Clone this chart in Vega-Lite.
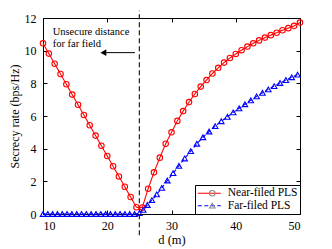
{
  "$schema": "https://vega.github.io/schema/vega-lite/v6.json",
  "width": 257,
  "height": 196,
  "autosize": {"type": "none"},
  "padding": {"left": 43, "top": 18, "right": 32, "bottom": 35},
  "config": {
    "view": {"stroke": "black", "strokeWidth": 1},
    "font": "Liberation Serif",
    "axis": {"labelFont": "Liberation Serif", "titleFont": "Liberation Serif", "labelColor": "black", "titleColor": "black", "tickColor": "black", "domain": false, "grid": false, "titleFontWeight": "normal"}
  },
  "datasets": {
    "curves": [
      {"series": "Near-filed PLS", "x": 10.0, "y": 10.45},
      {"series": "Near-filed PLS", "x": 10.909, "y": 9.82},
      {"series": "Near-filed PLS", "x": 11.818, "y": 9.2},
      {"series": "Near-filed PLS", "x": 12.727, "y": 8.57},
      {"series": "Near-filed PLS", "x": 13.636, "y": 7.94},
      {"series": "Near-filed PLS", "x": 14.545, "y": 7.31},
      {"series": "Near-filed PLS", "x": 15.455, "y": 6.69},
      {"series": "Near-filed PLS", "x": 16.364, "y": 6.06},
      {"series": "Near-filed PLS", "x": 17.273, "y": 5.43},
      {"series": "Near-filed PLS", "x": 18.182, "y": 4.8},
      {"series": "Near-filed PLS", "x": 19.091, "y": 4.18},
      {"series": "Near-filed PLS", "x": 20.0, "y": 3.55},
      {"series": "Near-filed PLS", "x": 20.909, "y": 2.92},
      {"series": "Near-filed PLS", "x": 21.818, "y": 2.3},
      {"series": "Near-filed PLS", "x": 22.727, "y": 1.67},
      {"series": "Near-filed PLS", "x": 23.636, "y": 1.04},
      {"series": "Near-filed PLS", "x": 24.545, "y": 0.41},
      {"series": "Near-filed PLS", "x": 25.455, "y": 0.4},
      {"series": "Near-filed PLS", "x": 26.364, "y": 1.55},
      {"series": "Near-filed PLS", "x": 27.273, "y": 2.55},
      {"series": "Near-filed PLS", "x": 28.182, "y": 3.45},
      {"series": "Near-filed PLS", "x": 29.091, "y": 4.3},
      {"series": "Near-filed PLS", "x": 30.0, "y": 5.0},
      {"series": "Near-filed PLS", "x": 30.909, "y": 5.7},
      {"series": "Near-filed PLS", "x": 31.818, "y": 6.3},
      {"series": "Near-filed PLS", "x": 32.727, "y": 6.85},
      {"series": "Near-filed PLS", "x": 33.636, "y": 7.35},
      {"series": "Near-filed PLS", "x": 34.545, "y": 7.8},
      {"series": "Near-filed PLS", "x": 35.455, "y": 8.2},
      {"series": "Near-filed PLS", "x": 36.364, "y": 8.6},
      {"series": "Near-filed PLS", "x": 37.273, "y": 8.95},
      {"series": "Near-filed PLS", "x": 38.182, "y": 9.27},
      {"series": "Near-filed PLS", "x": 39.091, "y": 9.55},
      {"series": "Near-filed PLS", "x": 40.0, "y": 9.8},
      {"series": "Near-filed PLS", "x": 40.909, "y": 10.03},
      {"series": "Near-filed PLS", "x": 41.818, "y": 10.25},
      {"series": "Near-filed PLS", "x": 42.727, "y": 10.45},
      {"series": "Near-filed PLS", "x": 43.636, "y": 10.63},
      {"series": "Near-filed PLS", "x": 44.545, "y": 10.8},
      {"series": "Near-filed PLS", "x": 45.455, "y": 10.95},
      {"series": "Near-filed PLS", "x": 46.364, "y": 11.1},
      {"series": "Near-filed PLS", "x": 47.273, "y": 11.25},
      {"series": "Near-filed PLS", "x": 48.182, "y": 11.38},
      {"series": "Near-filed PLS", "x": 49.091, "y": 11.52},
      {"series": "Near-filed PLS", "x": 50.0, "y": 11.72},
      {"series": "Far-filed PLS", "x": 10.0, "y": 0},
      {"series": "Far-filed PLS", "x": 10.75, "y": 0},
      {"series": "Far-filed PLS", "x": 11.5, "y": 0},
      {"series": "Far-filed PLS", "x": 12.25, "y": 0},
      {"series": "Far-filed PLS", "x": 13.0, "y": 0},
      {"series": "Far-filed PLS", "x": 13.75, "y": 0},
      {"series": "Far-filed PLS", "x": 14.5, "y": 0},
      {"series": "Far-filed PLS", "x": 15.25, "y": 0},
      {"series": "Far-filed PLS", "x": 16.0, "y": 0},
      {"series": "Far-filed PLS", "x": 16.75, "y": 0},
      {"series": "Far-filed PLS", "x": 17.5, "y": 0},
      {"series": "Far-filed PLS", "x": 18.25, "y": 0},
      {"series": "Far-filed PLS", "x": 19.0, "y": 0},
      {"series": "Far-filed PLS", "x": 19.75, "y": 0},
      {"series": "Far-filed PLS", "x": 20.5, "y": 0},
      {"series": "Far-filed PLS", "x": 21.25, "y": 0},
      {"series": "Far-filed PLS", "x": 22.0, "y": 0},
      {"series": "Far-filed PLS", "x": 22.75, "y": 0},
      {"series": "Far-filed PLS", "x": 23.5, "y": 0},
      {"series": "Far-filed PLS", "x": 24.25, "y": 0},
      {"series": "Far-filed PLS", "x": 25.0, "y": 0.05},
      {"series": "Far-filed PLS", "x": 25.6, "y": 0.25},
      {"series": "Far-filed PLS", "x": 26.25, "y": 0.55},
      {"series": "Far-filed PLS", "x": 26.95, "y": 0.85},
      {"series": "Far-filed PLS", "x": 27.7, "y": 1.2},
      {"series": "Far-filed PLS", "x": 28.5, "y": 1.6},
      {"series": "Far-filed PLS", "x": 29.35, "y": 2.05},
      {"series": "Far-filed PLS", "x": 30.25, "y": 2.5},
      {"series": "Far-filed PLS", "x": 31.15, "y": 2.95},
      {"series": "Far-filed PLS", "x": 32.05, "y": 3.4},
      {"series": "Far-filed PLS", "x": 33.0, "y": 3.85},
      {"series": "Far-filed PLS", "x": 33.95, "y": 4.3},
      {"series": "Far-filed PLS", "x": 34.9, "y": 4.7},
      {"series": "Far-filed PLS", "x": 35.85, "y": 5.05},
      {"series": "Far-filed PLS", "x": 36.8, "y": 5.38},
      {"series": "Far-filed PLS", "x": 37.75, "y": 5.68},
      {"series": "Far-filed PLS", "x": 38.7, "y": 5.95},
      {"series": "Far-filed PLS", "x": 39.61, "y": 6.22},
      {"series": "Far-filed PLS", "x": 40.52, "y": 6.47},
      {"series": "Far-filed PLS", "x": 41.43, "y": 6.72},
      {"series": "Far-filed PLS", "x": 42.34, "y": 6.96},
      {"series": "Far-filed PLS", "x": 43.25, "y": 7.2},
      {"series": "Far-filed PLS", "x": 44.16, "y": 7.42},
      {"series": "Far-filed PLS", "x": 45.07, "y": 7.63},
      {"series": "Far-filed PLS", "x": 45.98, "y": 7.83},
      {"series": "Far-filed PLS", "x": 46.89, "y": 8.02},
      {"series": "Far-filed PLS", "x": 47.8, "y": 8.2},
      {"series": "Far-filed PLS", "x": 48.71, "y": 8.37},
      {"series": "Far-filed PLS", "x": 49.62, "y": 8.53}
    ]
  },
  "layer": [
    {
      "data": {"values": [{"x": 25, "y": -1.3, "y2": 12.45}]},
      "mark": {"type": "rule", "clip": false, "strokeDash": [5, 3], "color": "#222222", "strokeWidth": 1.2},
      "encoding": {
        "x": {"field": "x", "type": "quantitative", "scale": {"domain": [10, 50], "nice": false, "zero": false},
              "axis": {"orient": "top", "labels": false, "title": null, "values": [10, 20, 30, 40, 50], "tickSize": -4}},
        "y": {"field": "y", "type": "quantitative", "scale": {"domain": [0, 12], "nice": false},
              "axis": {"orient": "right", "labels": false, "title": null, "values": [0, 2, 4, 6, 8, 10, 12], "tickSize": -4}},
        "y2": {"field": "y2"}
      }
    },
    {
      "data": {"name": "curves"},
      "mark": {"type": "line", "strokeWidth": 1.1, "clip": false},
      "encoding": {
        "x": {"field": "x", "type": "quantitative",
              "axis": {"orient": "bottom", "values": [10, 20, 30, 40, 50], "tickSize": -4, "labelPadding": 10, "labelFontSize": 12, "title": "d (m)", "titleFontSize": 12.5, "titlePadding": 2}},
        "y": {"field": "y", "type": "quantitative",
              "axis": {"orient": "left", "values": [0, 2, 4, 6, 8, 10, 12], "tickSize": -4, "labelPadding": 11, "labelFontSize": 12, "title": "Secrecy rate (bps/Hz)", "titleFontSize": 12, "titlePadding": 3}},
        "color": {"field": "series", "type": "nominal", "scale": {"domain": ["Near-filed PLS", "Far-filed PLS"], "range": ["#ff0000", "#0000ff"]},
          "legend": {
            "title": null, "orient": "bottom-right", "offset": 0,
            "strokeColor": "black", "fillColor": "white", "padding": 2.3,
            "labelFont": "Liberation Serif", "labelFontSize": 11.5, "labelColor": "black",
            "symbolType": "M-2.3,0L2.3,0", "symbolSize": 100, "symbolStrokeWidth": 1.1,
            "symbolOffset": 6, "labelOffset": 12.5, "rowPadding": 0.4
          }},
        "strokeDash": {"field": "series", "type": "nominal", "scale": {"domain": ["Near-filed PLS", "Far-filed PLS"], "range": [[1, 0], [4, 2.5]]}}
      }
    },
    {
      "data": {"name": "curves"},
      "mark": {"type": "point", "filled": false, "size": 30, "strokeWidth": 1.1, "opacity": 1, "clip": false},
      "encoding": {
        "x": {"field": "x", "type": "quantitative", "axis": null},
        "y": {"field": "y", "type": "quantitative", "axis": null},
        "shape": {"field": "series", "type": "nominal", "scale": {"domain": ["Near-filed PLS", "Far-filed PLS"], "range": ["circle", "triangle-up"]},
          "legend": {
            "title": null, "orient": "none", "legendX": 163.3, "legendY": 169.3,
            "padding": 0, "labelFont": "Liberation Serif", "labelFontSize": 12, "labelExpr": "''",
            "symbolSize": 30, "symbolStrokeWidth": 1.1, "symbolFillColor": "white", "rowPadding": 0.4
          }},
        "color": {"field": "series", "type": "nominal"}
      }
    },
    {
      "data": {"values": [{"x": 11.5, "y": 11.15, "t": "Unsecure distance"}, {"x": 11.5, "y": 10.43, "t": "for far field"}]},
      "mark": {"type": "text", "align": "left", "baseline": "middle", "font": "Liberation Serif", "fontSize": 10.5, "color": "black"},
      "encoding": {
        "x": {"field": "x", "type": "quantitative", "axis": null},
        "y": {"field": "y", "type": "quantitative", "axis": null},
        "text": {"field": "t"}
      }
    },
    {
      "data": {"values": [{"x": 24.3, "x2": 19.6, "y": 9.88}]},
      "mark": {"type": "rule", "color": "black", "strokeWidth": 1},
      "encoding": {
        "x": {"field": "x", "type": "quantitative", "axis": null},
        "x2": {"field": "x2"},
        "y": {"field": "y", "type": "quantitative", "axis": null}
      }
    },
    {
      "data": {"values": [{"x": 19.4, "y": 9.88}]},
      "mark": {"type": "point", "shape": "triangle-left", "filled": true, "color": "black", "size": 45, "opacity": 1},
      "encoding": {
        "x": {"field": "x", "type": "quantitative", "axis": null},
        "y": {"field": "y", "type": "quantitative", "axis": null}
      }
    }
  ]
}
